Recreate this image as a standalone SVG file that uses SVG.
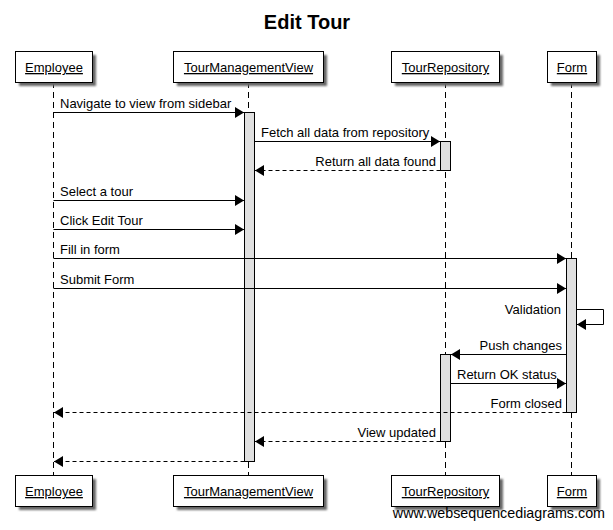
<svg xmlns="http://www.w3.org/2000/svg" width="613" height="530" viewBox="0 0 613 530">
<defs>
<marker id="arr" markerUnits="userSpaceOnUse" markerWidth="10" markerHeight="11" refX="9" refY="5.5" orient="auto">
<path d="M0,0 L9,5.5 L0,11 z" fill="#000"/>
</marker>
<filter id="sh" x="-10%" y="-10%" width="130%" height="140%">
<feGaussianBlur stdDeviation="0.8"/>
</filter>
</defs>
<style>
.t{font-family:"Liberation Sans",Arial,sans-serif;font-size:13px;fill:#000}
.p{font-family:"Liberation Sans",Arial,sans-serif;font-size:13px;fill:#000;text-anchor:middle;text-decoration:underline}
.box{fill:#fff;stroke:#000;stroke-width:1}
.shadow{fill:#666;filter:url(#sh)}
.life{stroke:#000;stroke-width:1;stroke-dasharray:6,4;fill:none}
.act{fill:#e0e0e0;stroke:#000;stroke-width:1}
.m{stroke:#000;stroke-width:1;fill:none;marker-end:url(#arr)}
.r{stroke:#000;stroke-width:1;fill:none;stroke-dasharray:4,3;marker-end:url(#arr)}
.end{text-anchor:end}
</style>
<rect width="613" height="530" fill="#fff"/>
<text x="307" y="29" font-family="Liberation Sans,Arial,sans-serif" font-size="20" font-weight="bold" text-anchor="middle">Edit Tour</text>

<g id="lifelines">
<line class="life" x1="53.5" y1="82" x2="53.5" y2="475"/>
<line class="life" x1="248.5" y1="82" x2="248.5" y2="475"/>
<line class="life" x1="445.5" y1="82" x2="445.5" y2="475"/>
<line class="life" x1="571.5" y1="82" x2="571.5" y2="475"/>
</g>

<g id="Employee">
<rect class="shadow" x="19" y="55" width="77" height="31"/>
<rect class="box" x="15.5" y="51.5" width="77" height="31"/>
<text class="p" x="54" y="72">Employee</text>
<rect class="shadow" x="19" y="479" width="77" height="31"/>
<rect class="box" x="15.5" y="475.5" width="77" height="31"/>
<text class="p" x="54" y="496">Employee</text>
</g>
<g id="TourManagementView">
<rect class="shadow" x="177" y="55" width="150" height="31"/>
<rect class="box" x="173.5" y="51.5" width="150" height="31"/>
<text class="p" x="248.5" y="72">TourManagementView</text>
<rect class="shadow" x="177" y="479" width="150" height="31"/>
<rect class="box" x="173.5" y="475.5" width="150" height="31"/>
<text class="p" x="248.5" y="496">TourManagementView</text>
</g>
<g id="TourRepository">
<rect class="shadow" x="395" y="55" width="108" height="31"/>
<rect class="box" x="391.5" y="51.5" width="108" height="31"/>
<text class="p" x="445.5" y="72">TourRepository</text>
<rect class="shadow" x="395" y="479" width="108" height="31"/>
<rect class="box" x="391.5" y="475.5" width="108" height="31"/>
<text class="p" x="445.5" y="496">TourRepository</text>
</g>
<g id="Form">
<rect class="shadow" x="551" y="55" width="49" height="31"/>
<rect class="box" x="547.5" y="51.5" width="49" height="31"/>
<text class="p" x="572" y="72">Form</text>
<rect class="shadow" x="551" y="479" width="49" height="31"/>
<rect class="box" x="547.5" y="475.5" width="49" height="31"/>
<text class="p" x="572" y="496">Form</text>
</g>

<g id="activations">
<rect class="act" x="244.5" y="112.5" width="10" height="349"/>
<rect class="act" x="440.5" y="141.5" width="10" height="29"/>
<rect class="act" x="566.5" y="258.5" width="10" height="154"/>
<rect class="act" x="440.5" y="354.5" width="10" height="87"/>
</g>

<g id="connectors">
<line class="m" x1="53.5" y1="112.5" x2="244" y2="112.5"/>
<line class="m" x1="254.5" y1="141.5" x2="440" y2="141.5"/>
<line class="r" x1="440.5" y1="170.5" x2="255" y2="170.5"/>
<line class="m" x1="53.5" y1="200.5" x2="244" y2="200.5"/>
<line class="m" x1="53.5" y1="229.5" x2="244" y2="229.5"/>
<line class="m" x1="53.5" y1="258.5" x2="566" y2="258.5"/>
<line class="m" x1="53.5" y1="288.5" x2="566" y2="288.5"/>
<polyline class="m" points="576.5,309.5 603.5,309.5 603.5,324.5 577,324.5"/>
<line class="m" x1="566.5" y1="354.5" x2="451" y2="354.5"/>
<line class="m" x1="450.5" y1="383.5" x2="566" y2="383.5"/>
<line class="r" x1="566.5" y1="412.5" x2="54" y2="412.5"/>
<line class="r" x1="440.5" y1="441.5" x2="255" y2="441.5"/>
<line class="r" x1="244.5" y1="461.5" x2="54" y2="461.5"/>
</g>

<g id="labels">
<text class="t" x="60" y="108">Navigate to view from sidebar</text>
<text class="t" x="261" y="137">Fetch all data from repository</text>
<text class="t end" x="436" y="166">Return all data found</text>
<text class="t" x="60" y="196">Select a tour</text>
<text class="t" x="60" y="225">Click Edit Tour</text>
<text class="t" x="60" y="254">Fill in form</text>
<text class="t" x="60" y="284">Submit Form</text>
<text class="t end" x="561" y="314">Validation</text>
<text class="t end" x="562" y="350">Push changes</text>
<text class="t" x="457" y="379">Return OK status</text>
<text class="t end" x="562" y="408">Form closed</text>
<text class="t end" x="436" y="437">View updated</text>
</g>
<text x="605" y="518" font-family="Liberation Sans,Arial,sans-serif" font-size="14.3" text-anchor="end">www.websequencediagrams.com</text>
</svg>
